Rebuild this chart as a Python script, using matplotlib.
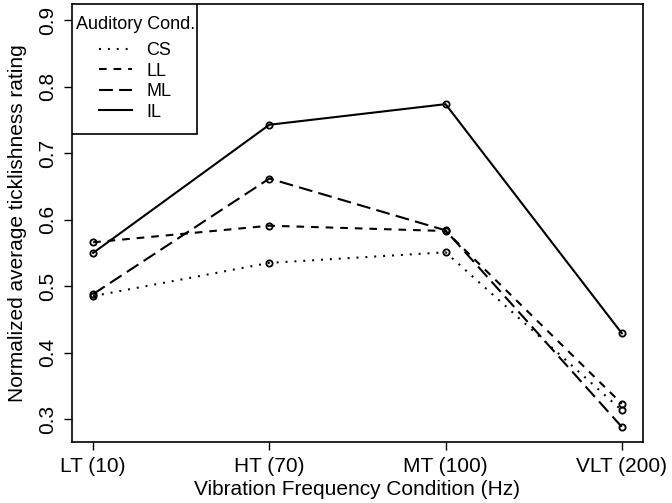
import matplotlib
matplotlib.use("Agg")
import matplotlib.pyplot as plt
from matplotlib.patches import Rectangle
from matplotlib.transforms import offset_copy, IdentityTransform

plt.rcParams['font.family'] = ['Liberation Sans', 'DejaVu Sans']
plt.rcParams['lines.scale_dashes'] = False

conditions = ["LT (10)", "HT (70)", "MT (100)", "VLT (200)"]
yticks = [0.3, 0.4, 0.5, 0.6, 0.7, 0.8, 0.9]

cs = [0.485, 0.535, 0.551, 0.313]
ll = [0.566, 0.591, 0.583, 0.323]
ml = [0.488, 0.662, 0.584, 0.288]
il = [0.550, 0.743, 0.774, 0.429]

series = [("CS", cs, (0, (1.4, 5.0))),
          ("LL", ll, (0, (5.5, 5.0))),
          ("ML", ml, (0, (10.0, 4.5))),
          ("IL", il, "-")]

fig = plt.figure(figsize=(6.72, 5.03), dpi=100)
ax = fig.add_axes([0.1071, 0.1219, 0.8497, 0.8696])

x = [1, 2, 3, 4]
for name, vals, ls in series:
    ax.plot(x, vals, color="black", linestyle=ls, linewidth=1.5, label=name)
    ax.plot(x, vals, linestyle="none", marker="o", markersize=4.5,
            markerfacecolor="none", markeredgecolor="black", markeredgewidth=1.3)

ax.set_xlim(0.88, 4.12)
ax.set_ylim(0.2658, 0.9244)
ax.set_xticks(x)
ax.set_xticklabels(conditions, fontsize=15)
ax.set_yticks(yticks)
ax.set_yticklabels([f"{v:.1f}" for v in yticks], fontsize=15, rotation=90, va="center")
ax.tick_params(direction="out", length=6, width=1, pad=5)
for s in ax.spines.values():
    s.set_linewidth(1.2)

ax.set_xlabel("Vibration Frequency Condition (Hz)", fontsize=15, labelpad=3)
ax.set_ylabel("Normalized average ticklishness rating", fontsize=15, labelpad=8)

# legend without frame, box drawn separately (R-style padding)
anchor = offset_copy(ax.transAxes, fig=fig, x=0, y=-8, units="dots")
leg = ax.legend(loc="upper left", bbox_to_anchor=(0, 1), bbox_transform=anchor,
                borderaxespad=0, frameon=False,
                title="Auditory Cond.", fontsize=13, title_fontsize=13,
                handlelength=1.85, handletextpad=0.8, labelspacing=0.2,
                borderpad=0.2)
leg._legend_box.sep = 6.5
leg.set_zorder(5)

fig.canvas.draw()
lb = leg.get_window_extent()
ab = ax.get_window_extent()
box = Rectangle((ab.x0, lb.y0 - 10), lb.x1 - ab.x0 - 1, ab.y1 - lb.y0 + 10,
                transform=IdentityTransform(), facecolor="white",
                edgecolor="black", linewidth=1.2, zorder=4)
ax.add_artist(box)

fig.savefig("out.png", dpi=100)
